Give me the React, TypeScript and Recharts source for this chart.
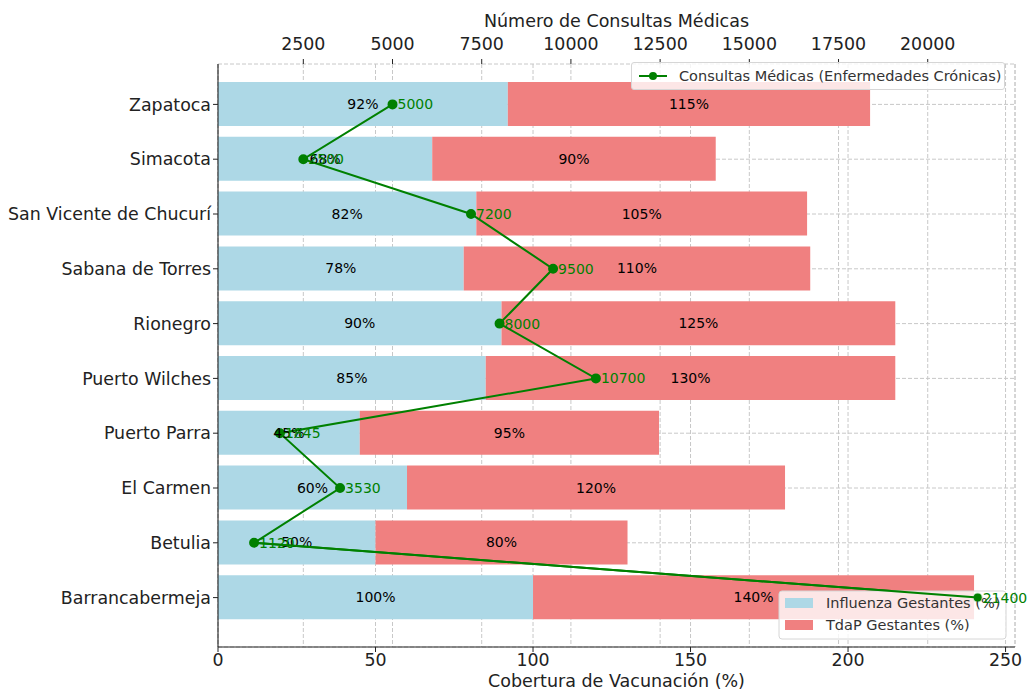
import React from 'react';
import { ComposedChart, Bar, Line, XAxis, YAxis, CartesianGrid, LabelList } from 'recharts';

const municipios = [
  'Zapatoca',
  'Simacota',
  'San Vicente de Chucurí',
  'Sabana de Torres',
  'Rionegro',
  'Puerto Wilches',
  'Puerto Parra',
  'El Carmen',
  'Betulia',
  'Barrancabermeja',
];
const influenza = [92, 68, 82, 78, 90, 85, 45, 60, 50, 100];
const tdap = [115, 90, 105, 110, 125, 130, 95, 120, 80, 140];
const consultas = [5000, 2500, 7200, 9500, 8000, 10700, 1845, 3530, 1120, 21400];

const coberturaTicks = [0, 50, 100, 150, 200, 250];
const consultasTicks = [2500, 5000, 7500, 10000, 12500, 15000, 17500, 20000];

const FONT = '"DejaVu Sans", sans-serif';
const BLUE = '#ADD8E6';
const CORAL = '#F08080';
const GREEN = '#008000';

const data = municipios.map((name, i) => ({
  name,
  influenza: influenza[i],
  tdap: tdap[i],
  consultas: consultas[i],
}));

const barSeries = [
  { name: 'Influenza Gestantes (%)', color: BLUE },
  { name: 'TdaP Gestantes (%)', color: CORAL },
];

const tickStyle = { fill: '#222', fontSize: 17.4, fontFamily: FONT };
const titleStyle = { fill: '#222', fontSize: 17.5, fontFamily: FONT };

// bar legend (sits under the green line, as in the original)
function BarLegend() {
  const x = 779;
  const y = 591;
  return (
    <g>
      <rect x={x} y={y} width={227} height={48} rx={3} fill="rgba(255,255,255,0.8)" stroke="#d6d6d6" />
      {barSeries.map((s, i) => (
        <g key={s.name}>
          <rect x={x + 6} y={y + 7 + i * 22} width={28} height={10} fill={s.color} />
          <text x={x + 47} y={y + 12 + i * 22} dominantBaseline="central" fill="#333" fontSize={14.5} fontFamily={FONT}>
            {s.name}
          </text>
        </g>
      ))}
    </g>
  );
}

// point positions handed over by recharts while the labels render
const linePts: { x: number; y: number }[] = [];

function ConsultaLabel(props: any) {
  const { x, y, value, index } = props;
  linePts[index] = { x, y };
  const last = index === municipios.length - 1;
  const prev = linePts[index - 1];
  return (
    <g>
      {last && <BarLegend />}
      {last && prev && (
        <g>
          <line x1={prev.x} y1={prev.y} x2={x} y2={y} stroke={GREEN} strokeWidth={2} />
          <circle cx={x} cy={y} r={4} fill={GREEN} />
        </g>
      )}
      <text x={x + 5} y={y} dominantBaseline="central" fill={GREEN} fontSize={14} fontFamily={FONT}>
        {value}
      </text>
    </g>
  );
}

export default function App() {
  return (
    <div style={{ position: 'absolute', left: 0, top: 0, width: 1028, height: 691, background: '#fff', fontFamily: FONT }}>
      <ComposedChart
        layout="vertical"
        width={1028}
        height={691}
        data={data}
        margin={{ top: 0, right: 13, left: 0, bottom: 0 }}
      >
        <XAxis
          xAxisId="pct"
          type="number"
          orientation="bottom"
          domain={[0, 253]}
          ticks={coberturaTicks}
          height={44}
          tick={tickStyle}
          tickSize={5}
          tickMargin={2}
          axisLine={{ stroke: '#222', strokeWidth: 1.1 }}
          tickLine={{ stroke: '#222' }}
          label={{ value: 'Cobertura de Vacunación (%)', position: 'insideBottom', offset: 4, style: titleStyle }}
        />
        <XAxis
          xAxisId="cons"
          type="number"
          orientation="top"
          domain={[109, 22446]}
          ticks={consultasTicks}
          height={64}
          tick={tickStyle}
          tickSize={5}
          tickMargin={9}
          axisLine={false}
          tickLine={{ stroke: '#222' }}
          label={{ value: 'Número de Consultas Médicas', position: 'insideTop', offset: 15, style: titleStyle }}
        />
        <YAxis
          type="category"
          dataKey="name"
          width={218}
          padding={{ top: 13, bottom: 22 }}
          tick={tickStyle}
          tickSize={5}
          tickMargin={2}
          axisLine={{ stroke: '#222', strokeWidth: 1.1 }}
          tickLine={{ stroke: '#222' }}
        />
        <Bar dataKey="influenza" stackId="cob" xAxisId="pct" fill={BLUE} barSize={44} isAnimationActive={false}>
          <LabelList dataKey="influenza" position="center" formatter={(v: any) => `${v}%`} style={{ fill: '#000', fontSize: 14, fontFamily: FONT }} />
        </Bar>
        <Bar dataKey="tdap" stackId="cob" xAxisId="pct" fill={CORAL} barSize={44} isAnimationActive={false}>
          <LabelList dataKey="tdap" position="center" formatter={(v: any) => `${v}%`} style={{ fill: '#000', fontSize: 14, fontFamily: FONT }} />
        </Bar>
        <CartesianGrid xAxisId="pct" strokeDasharray="4 2" stroke="#c8c8c8" />
        <CartesianGrid xAxisId="cons" horizontal={false} strokeDasharray="4 2" stroke="#c8c8c8" />
        <Line
          dataKey="consultas"
          xAxisId="cons"
          stroke={GREEN}
          strokeWidth={2}
          dot={{ r: 4, fill: GREEN, stroke: GREEN }}
          isAnimationActive={false}
        >
          <LabelList dataKey="consultas" content={ConsultaLabel} />
        </Line>
      </ComposedChart>

      {/* legend for the line (top right) */}
      <div
        style={{
          position: 'absolute', left: 631, top: 62, width: 374, height: 28, boxSizing: 'border-box',
          border: '1px solid #d6d6d6', borderRadius: 3, background: 'rgba(255,255,255,0.8)',
          display: 'flex', alignItems: 'center', fontSize: 14.5, color: '#333',
        }}
      >
        <svg width={44} height={12} style={{ marginLeft: 3 }}>
          <line x1={4} y1={6} x2={32} y2={6} stroke={GREEN} strokeWidth={2} />
          <circle cx={18} cy={6} r={4} fill={GREEN} />
        </svg>
        <span>Consultas Médicas (Enfermedades Crónicas)</span>
      </div>
    </div>
  );
}
